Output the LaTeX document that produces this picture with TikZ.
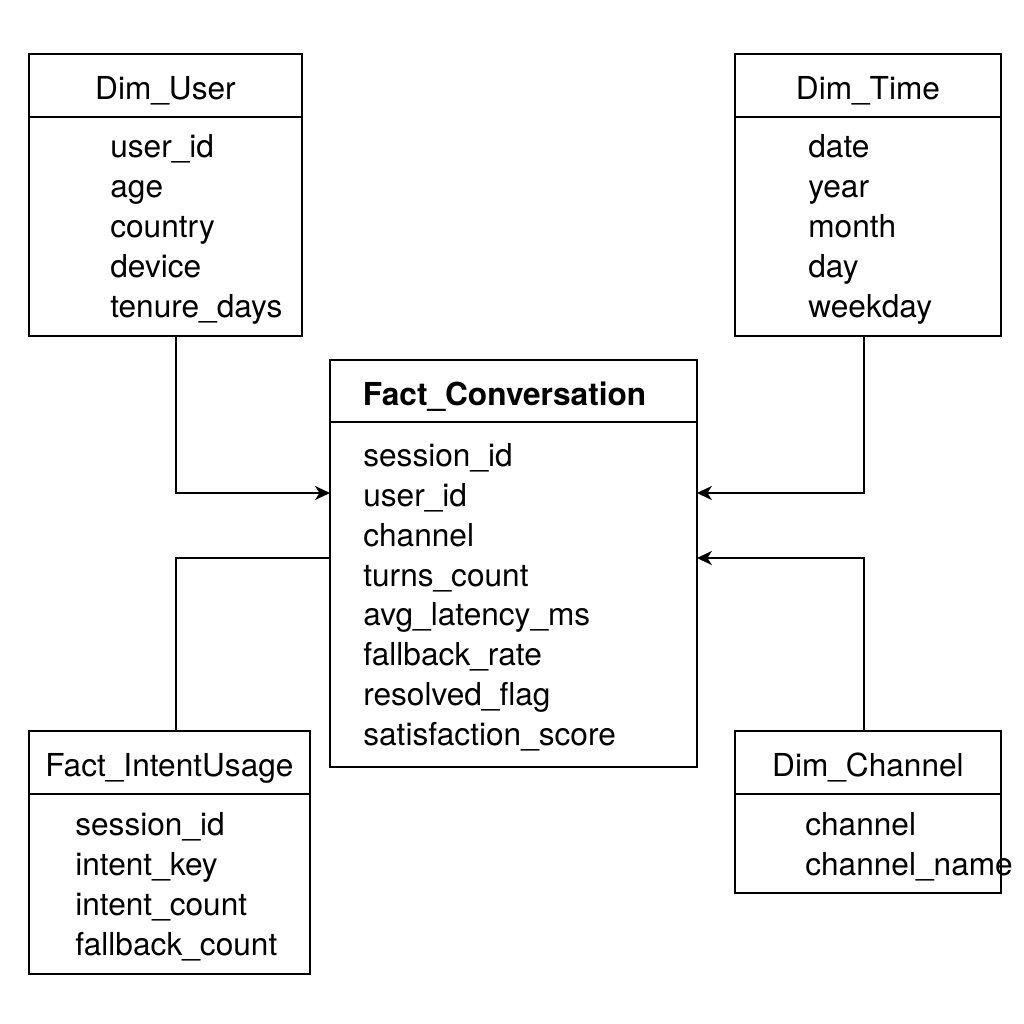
\documentclass[tikz,border=0pt]{standalone}
\usepackage{fontspec}
\setmainfont{TeX Gyre Heros}
\usepackage{tikz}
\tikzset{
every node/.style={font=\fontsize{18}{22.76}\selectfont},
hdr/.style={draw, line width=1.1pt, inner sep=0, outer sep=0, anchor=north west, text height=16.5pt, text depth=0pt},
tbody/.style={draw, line width=1.1pt, inner sep=0, outer sep=0, anchor=north west},
fields/.style={inner sep=0, align=left, anchor=west, yshift=-1.6pt},
fk/.style = {-{Stealth[length=8.5pt, width=8pt, inset=2.5pt]}, line width=1pt},
nofk/.style = {line width=1pt}
}
\usetikzlibrary{arrows.meta, positioning}

\begin{document}
\begin{tikzpicture}[x=0.02cm, y=-0.02cm]
			\useasboundingbox (0,0) rectangle (1024,1024);
			% ---- tables
			\node[hdr, minimum width=5.46cm, minimum height=1.26cm] (userh) at (29,54) {Dim\_User};
			\node[tbody, minimum width=5.46cm, minimum height=4.38cm] (userb) at (userh.south west) {};
			\node[fields, right=1.62cm of userb.west] (userf) {user\_id\\age\\country\\device\\tenure\_days};
			%
			\node[hdr, minimum width=5.32cm, minimum height=1.26cm] (timeh) at (735,54) {Dim\_Time};
			\node[tbody, minimum width=5.32cm, minimum height=4.38cm] (timeb) at (timeh.south west) {};
			\node[fields, right=1.46cm of timeb.west] (timef) {date\\year\\month\\day\\weekday};
			%
			\node[hdr, font=\fontsize{18}{22.76}\selectfont\bfseries, align=left, inner xsep=0.66cm, text width=6.02cm, minimum height=1.24cm] (facth) at (330,360) {Fact\_Conversation};
			\node[tbody, minimum width=7.34cm, minimum height=6.90cm] (factb) at (facth.south west) {};
			\node[fields, right=0.66cm of factb.west] (factf) {session\_id\\user\_id\\channel\\turns\_count\\avg\_latency\_ms\\fallback\_rate\\resolved\_flag\\satisfaction\_score};
			%
			\node[hdr, minimum width=5.62cm, minimum height=1.26cm] (intenth) at (29,731) {Fact\_IntentUsage};
			\node[tbody, minimum width=5.62cm, minimum height=3.60cm] (intentb) at (intenth.south west) {};
			\node[fields, right=0.92cm of intentb.west] (intentf) {session\_id\\intent\_key\\intent\_count\\fallback\_count};
			%
			\node[hdr, minimum width=5.32cm, minimum height=1.26cm] (chanh) at (735,731) {Dim\_Channel};
			\node[tbody, minimum width=5.32cm, minimum height=1.98cm] (chanb) at (chanh.south west) {};
			\node[fields, right=1.40cm of chanb.west] (chanf) {channel\\channel\_name};
			% ---- links
			\coordinate (uJ) at (176,493);
			\coordinate (tJ) at (864,493);
			\coordinate (iJ) at (176,558);
			\coordinate (cJ) at (864,558);
			\draw[fk] (userb.south -| uJ) |- (factb.west |- uJ);
			\draw[fk] (timeb.south -| tJ) |- (factb.east |- tJ);
			\draw[nofk] (intenth.north -| iJ) |- (factb.west |- iJ);
			\draw[fk] (chanh.north -| cJ) |- (factb.east |- cJ);
		\end{tikzpicture}
\end{document}
